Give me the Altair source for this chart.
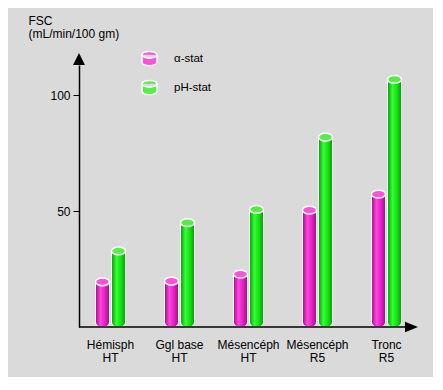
import altair as alt
import pandas as pd

# ---- data ----
categories = ["Hémisph|HT", "Ggl base|HT", "Mésencéph|HT", "Mésencéph|R5", "Tronc|R5"]
alpha_stat = [19.5, 19.8, 22.8, 50.4, 57.3]
ph_stat = [32.8, 45.0, 50.7, 81.9, 106.8]
series_names = ["α-stat", "pH-stat"]
y_ticks = [50, 100]
y_title = ["FSC", "(mL/min/100 gm)"]

df = pd.DataFrame({
    "cat": categories * 2,
    "series": [series_names[0]] * len(categories) + [series_names[1]] * len(categories),
    "value": alpha_stat + ph_stat,
})
one = pd.DataFrame({"k": [0]})

FONT = "Liberation Sans"
BG = "#dadada"
W, H = 326, 262
YMAX = 113
STEP = 69

ELLIPSE = "M-1,0 A1,0.55 0 1,0 1,0 A1,0.55 0 1,0 -1,0 Z"
CYL = ("M-1,-0.5 A1,0.45 0 0,1 1,-0.5 L1,0.5 A1,0.45 0 0,1 -1,0.5 Z "
       "M-1,-0.5 A1,0.45 0 0,0 1,-0.5")

x_enc = alt.X(
    "cat:N", sort=categories,
    scale=alt.Scale(domain=categories, range=[-3, -3 + len(categories) * STEP],
                    paddingInner=0, paddingOuter=0),
    axis=alt.Axis(title=None, labelExpr="split(datum.label, '|')", labelAngle=0,
                  domain=False, ticks=False, labelPadding=12, labelFontSize=12,
                  labelLineHeight=13, labelColor="#000", labelFont=FONT,
                  labelBaseline="top"),
)
y_enc = alt.Y(
    "value:Q", scale=alt.Scale(domain=[0, YMAX], nice=False),
    axis=alt.Axis(values=y_ticks, title=y_title, titleAngle=0, titleAlign="left",
                  titleBaseline="top", titleX=-51, titleY=-50, titleFontSize=12,
                  titleFontWeight="normal", titleLineHeight=13, titleFont=FONT,
                  titleColor="#000", tickSize=6, tickColor="#000", tickWidth=1,
                  domainColor="#000", domainWidth=1.5, labelFontSize=12,
                  labelPadding=3, labelFont=FONT, labelColor="#000", grid=False),
)

grads = [
    alt.Gradient(gradient="linear", x1=0, x2=1, y1=0, y2=0, stops=[
        alt.GradientStop(color="#a00c86", offset=0),
        alt.GradientStop(color="#ff45dc", offset=0.35),
        alt.GradientStop(color="#e01fc2", offset=0.7),
        alt.GradientStop(color="#a00c86", offset=1)]),
    alt.Gradient(gradient="linear", x1=0, x2=1, y1=0, y2=0, stops=[
        alt.GradientStop(color="#089808", offset=0),
        alt.GradientStop(color="#33ff33", offset=0.35),
        alt.GradientStop(color="#11dd11", offset=0.7),
        alt.GradientStop(color="#089808", offset=1)]),
]
top_colors = ["#ff50dc", "#55ee44"]
offsets = [-8, 8]

legend = alt.Legend(title=None, orient="none", legendX=62, legendY=-15, padding=0,
                    rowPadding=8, labelOffset=16, labelFontSize=11.5, labelFont=FONT,
                    labelColor="#000", symbolType=CYL, symbolSize=225,
                    symbolStrokeColor="white", symbolStrokeWidth=1.5, symbolOpacity=1)

layers = []
for s, g, off in zip(series_names, grads, offsets):
    base = alt.Chart(df).transform_filter(alt.datum.series == s)
    layers.append(base.mark_bar(width=14, xOffset=off, y2Offset=-2, fill=g, stroke="white",
                                strokeWidth=1, cornerRadiusBottomLeft=5,
                                cornerRadiusBottomRight=5).encode(x=x_enc, y=y_enc))
    layers.append(base.mark_point(shape=ELLIPSE, size=196, filled=True, opacity=1,
                                  stroke="white", strokeWidth=1.5, xOffset=off).encode(
        x=x_enc, y=y_enc,
        color=alt.Color("series:N", scale=alt.Scale(domain=series_names, range=top_colors),
                        legend=legend)))

x_line = alt.Chart(one).mark_rule(color="#000", strokeWidth=1.5).encode(
    x=alt.value(0), x2=alt.value(W), y=alt.value(H))
arrow_up = alt.Chart(one).mark_point(shape="M0,-1 L1,1 L-1,1 Z", size=144, filled=True,
                                     color="#000", opacity=1).encode(
    x=alt.value(0), y=alt.value(-6))
arrow_right = alt.Chart(one).mark_point(shape="M1,0 L-1,-0.8 L-1,0.8 Z", size=169,
                                        filled=True, color="#000", opacity=1).encode(
    x=alt.value(W + 6.5), y=alt.value(H))

chart = alt.layer(*layers, x_line, arrow_up, arrow_right).properties(
    width=W, height=H,
    autosize=alt.AutoSizeParams(type="none"),
    padding={"left": 71, "top": 57, "right": 28, "bottom": 50},
    usermeta={"embedOptions": {"defaultStyle": "html,body{background:%s;}" % BG}},
).configure(background=BG).configure_view(stroke=None)

chart.save("out.html", embed_options={"renderer": "svg", "actions": False})
